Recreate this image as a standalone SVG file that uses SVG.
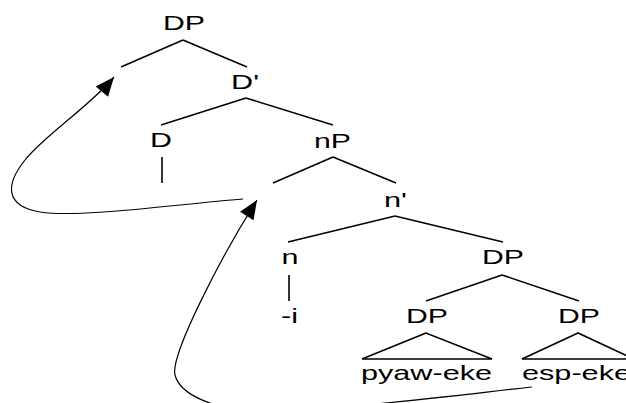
<svg xmlns="http://www.w3.org/2000/svg" width="626" height="403" viewBox="0 0 626 403">
  <style>
    .lbl { font-family: "Liberation Sans", Arial, sans-serif; font-size: 21px; fill: #000; }
    .br { stroke: #000; stroke-width: 1.6; fill: none; stroke-linecap: butt; }
    .tri { stroke: #000; stroke-width: 1.6; fill: none; stroke-linejoin: miter; }
    .mv { stroke: #000; stroke-width: 1.2; fill: none; }
  </style>
  <defs>
    <marker id="head" markerUnits="userSpaceOnUse" markerWidth="22" markerHeight="18" refX="19" refY="8" orient="auto" overflow="visible">
      <path d="M0,0 L19,8 L0,16 z" fill="#000"/>
    </marker>
  </defs>
  <rect width="626" height="403" fill="#fff"/>

  <g id="dp-root">
    <text class="lbl" x="163" y="30" textLength="42" lengthAdjust="spacingAndGlyphs">DP</text>
    <line class="br" x1="183" y1="40" x2="121" y2="67"/>
    <line class="br" x1="183" y1="40" x2="247" y2="67"/>
  </g>

  <g id="d-bar">
    <text class="lbl" x="231" y="89" textLength="28" lengthAdjust="spacingAndGlyphs">D'</text>
    <line class="br" x1="246" y1="98" x2="161" y2="125"/>
    <line class="br" x1="246" y1="98" x2="333" y2="125"/>
  </g>

  <g id="d-head">
    <text class="lbl" x="150" y="147" textLength="22" lengthAdjust="spacingAndGlyphs">D</text>
    <line class="br" x1="162" y1="157" x2="162" y2="183"/>
  </g>

  <g id="np">
    <text class="lbl" x="314" y="148" textLength="37" lengthAdjust="spacingAndGlyphs">nP</text>
    <line class="br" x1="333" y1="157" x2="273" y2="183"/>
    <line class="br" x1="333" y1="157" x2="396" y2="183"/>
  </g>

  <g id="n-bar">
    <text class="lbl" x="384" y="207" textLength="23" lengthAdjust="spacingAndGlyphs">n'</text>
    <line class="br" x1="395" y1="216" x2="288" y2="242"/>
    <line class="br" x1="395" y1="216" x2="503" y2="242"/>
  </g>

  <g id="n-head">
    <text class="lbl" x="281.5" y="264" textLength="17" lengthAdjust="spacingAndGlyphs">n</text>
    <line class="br" x1="289" y1="275" x2="289" y2="301"/>
  </g>

  <g id="suffix-i">
    <text class="lbl" x="281" y="323" textLength="17" lengthAdjust="spacingAndGlyphs">-i</text>
  </g>

  <g id="dp-coord">
    <text class="lbl" x="482" y="264" textLength="42" lengthAdjust="spacingAndGlyphs">DP</text>
    <line class="br" x1="502" y1="275" x2="426" y2="301"/>
    <line class="br" x1="502" y1="275" x2="579" y2="301"/>
  </g>

  <g id="dp-left">
    <text class="lbl" x="406" y="323" textLength="42" lengthAdjust="spacingAndGlyphs">DP</text>
    <polygon class="tri" points="426,333 362,359 492,359"/>
    <text class="lbl" x="361" y="380" textLength="131" lengthAdjust="spacingAndGlyphs">pyaw-eke</text>
  </g>

  <g id="dp-right">
    <text class="lbl" x="558" y="323" textLength="42" lengthAdjust="spacingAndGlyphs">DP</text>
    <polygon class="tri" points="578,333 522,359 634,359"/>
    <text class="lbl" x="522" y="380" textLength="109" lengthAdjust="spacingAndGlyphs">esp-eke</text>
  </g>

  <g id="connectors">
    <path class="mv" marker-end="url(#head)" d="M243,199 C170,205 80,218 40,212 C5,206 5,185 25,160 C45,135 90,106 114,77"/>
    <path class="mv" marker-end="url(#head)" d="M532,387 C450,396 330,412 250,410 C215,409 180,395 175,375 C170,355 222,255 257,200"/>
  </g>
</svg>
